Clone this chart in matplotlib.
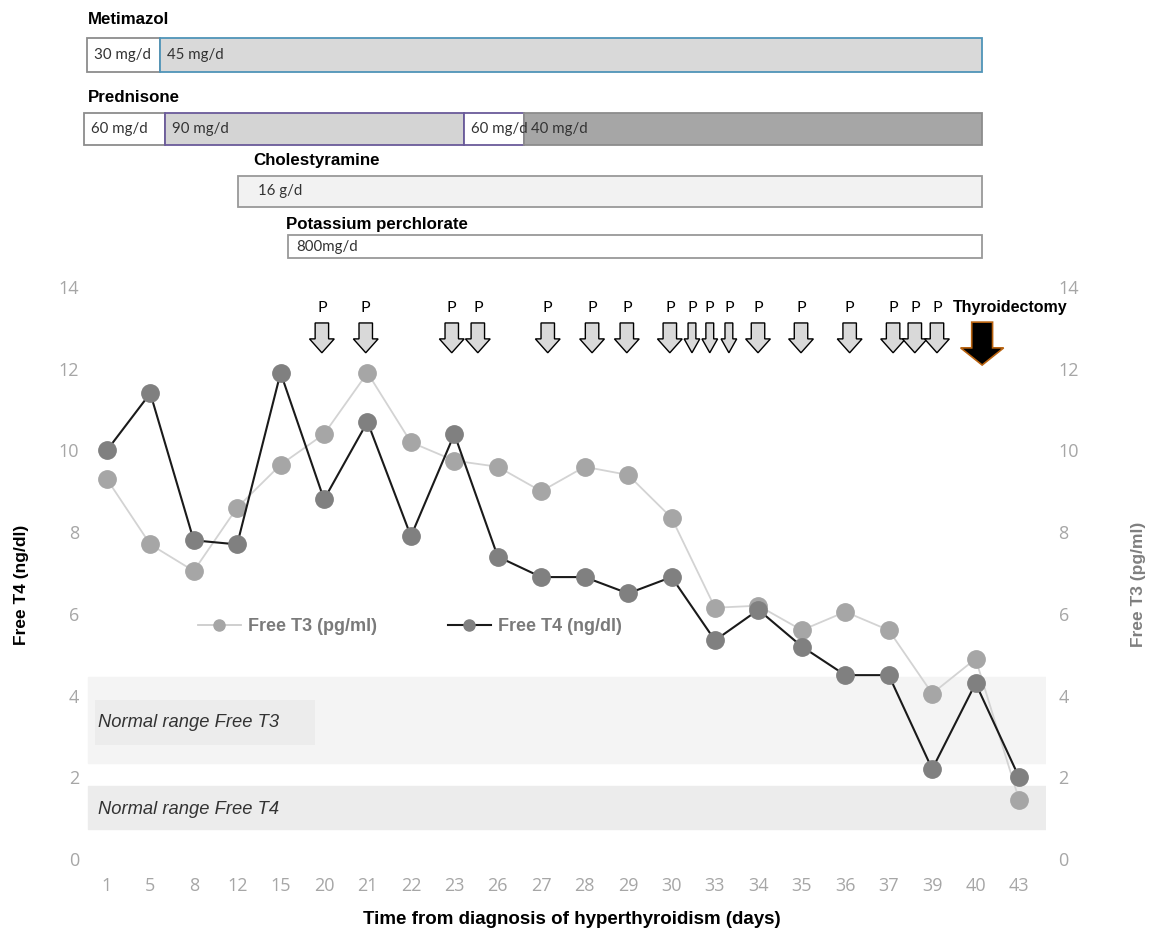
import numpy as np
import matplotlib as mpl, matplotlib.pyplot as plt
from matplotlib.patches import FancyArrow
from matplotlib.lines import Line2D

INK = "#1a1a1a"; TICK = "#a6a6a6"
mpl.rcParams.update({"font.family": "Liberation Sans"})

# ---- data ----
days = ["1", "5", "8", "12", "15", "20", "21", "22", "23", "26", "27", "28",
        "29", "30", "33", "34", "35", "36", "37", "39", "40", "43"]
ft3 = [9.3, 7.7, 7.05, 8.6, 9.65, 10.4, 11.9, 10.2, 9.75, 9.6, 9.0, 9.6,
       9.4, 8.35, 6.15, 6.2, 5.6, 6.05, 5.6, 4.05, 4.9, 1.45]
ft4 = [10.0, 11.4, 7.8, 7.7, 11.9, 8.8, 10.7, 7.9, 10.4, 7.4, 6.9, 6.9,
       6.5, 6.9, 5.35, 6.1, 5.2, 4.5, 4.5, 2.2, 4.3, 2.0]

# plasmapheresis sessions (position on category axis) and surgery
p_pos = [4.95, 5.96, 7.94, 8.54, 10.15, 11.17, 11.97, 12.96, 13.47, 13.88,
         14.32, 14.99, 15.98, 17.1, 18.1, 18.6, 19.11]
p_narrow = [13.47, 13.88, 14.32]
thyroidectomy = 20.15

# medication segments: (start, end, label, fill, edge) on the category axis
drugs = ["Metimazol", "Prednisone", "Cholestyramine", "Potassium perchlorate"]
drug_label_x = [-0.44, -0.44, 3.38, 4.12]
segments = [
    [(-0.46, 1.22, "30 mg/d", "white", "#8c8c8c"),
     (1.22, 20.15, "45 mg/d", "#d9d9d9", "#4f94b8")],
    [(-0.53, 1.34, "60 mg/d", "white", "#8c8c8c"),
     (1.34, 8.22, "90 mg/d", "#d4d4d4", "#6a5a9a"),
     (8.22, 9.6, "60 mg/d", "white", "#6a5a9a"),
     (9.6, 20.15, "40 mg/d", "#a6a6a6", "#8c8c8c")],
    [(3.02, 20.15, "16 g/d", "#f2f2f2", "#999999")],
    [(4.17, 20.15, "800mg/d", "white", "#999999")],
]
seg_pad = [0.17, 0.17, 0.45, 0.2]
# layout rows for the top panel (pixel-like units, inverted)
row_label_y = [20, 98, 160, 224]
row_bar_y = [55, 129, 191.5, 246.5]
row_bar_h = [34, 32, 31, 23]

fig = plt.figure(figsize=(11.56, 9.43), dpi=100)
W, H = 1156, 943
XL = (-0.48, 21.62)

# ---- main chart ----
ax = fig.add_axes([86 / W, (H - 859) / H, 960 / W, 572 / H])
x = np.arange(len(days))
ax.set_xlim(*XL); ax.set_ylim(0, 14)

ax.axhspan(2.35, 4.45, xmin=0.002, xmax=1.0, color="#f4f4f4", zorder=0)
ax.axhspan(0.73, 1.79, xmin=0.002, xmax=1.0, color="#ececec", zorder=0)
ax.fill_between([-0.28, 4.79], 2.79, 3.89, color="#ececec", zorder=0.5, lw=0)
ax.text(-0.21, 3.35, "Normal range Free T3", style="italic", fontsize=13.2,
        color="#333333", va="center")
ax.text(-0.21, 1.22, "Normal range Free T4", style="italic", fontsize=13.2,
        color="#333333", va="center")

l3, = ax.plot(x, ft3, color="#d3d3d3", lw=1.3, marker="o", ms=12.5,
              mfc="#a6a6a6", mec="#a6a6a6", zorder=3)
l4, = ax.plot(x, ft4, color=INK, lw=1.5, marker="o", ms=12.5,
              mfc="#808080", mec="#808080", zorder=4)

h3 = Line2D([], [], color="#cccccc", lw=1.3, marker="o", ms=8, mfc="#a6a6a6", mec="#a6a6a6")
h4 = Line2D([], [], color=INK, lw=1.5, marker="o", ms=8, mfc="#808080", mec="#808080")
leg = ax.legend([h3, h4], ["Free T3 (pg/ml)", "Free T4 (ng/dl)"], ncol=2, frameon=False,
                loc="center", bbox_to_anchor=((410 - 86) / 960, 0.406), handlelength=2.4,
                columnspacing=3.9, handletextpad=0.4,
                prop={"weight": "bold", "size": 13})
for t in leg.get_texts():
    t.set_color("#7a7a7a")

# arrows
for px in p_pos:
    nar = px in p_narrow
    ax.add_patch(FancyArrow(px, 13.12, 0, -0.73, width=0.18 if nar else 0.31,
                            head_width=0.36 if nar else 0.57, head_length=0.34,
                            length_includes_head=True, fc="#d9d9d9", ec="black", lw=1.0, zorder=5))
    ax.text(px, 13.48, "P", ha="center", va="center", fontsize=11.5,
            family="Lato", color="black")
ax.add_patch(FancyArrow(thyroidectomy, 13.14, 0, -1.05, width=0.48, head_width=0.99,
                        head_length=0.42, length_includes_head=True, fc="black",
                        ec="#b8620f", lw=1.2, zorder=5))
ax.text(20.79, 13.5, "Thyroidectomy", ha="center", va="center", fontsize=11.5,
        weight="bold", color="black")

ax.set_xticks(x)
ax.set_xticklabels(days, family="Open Sans", fontsize=13, color=TICK)
ax.set_yticks(range(0, 15, 2))
ax.set_yticklabels([str(v) for v in range(0, 15, 2)], family="Open Sans",
                   fontsize=13, color=TICK)
ax.tick_params(axis="x", length=0, pad=13)
ax.tick_params(axis="y", length=0, pad=5)
for s in ax.spines.values():
    s.set_visible(False)
ax.set_ylabel("Free T4 (ng/dl)", fontsize=12.5, weight="bold", color="black")
ax.yaxis.set_label_coords(-57 / 960, 0.48)
ax.set_xlabel("Time from diagnosis of hyperthyroidism (days)", fontsize=13.5,
              weight="bold", color="black")
ax.xaxis.set_label_coords((572 - 86) / 960, -52 / 572)

ax2 = ax.twinx()
ax2.set_ylim(0, 14)
ax2.set_yticks(range(0, 15, 2))
ax2.set_yticklabels([str(v) for v in range(0, 15, 2)], family="Open Sans",
                    fontsize=13, color=TICK)
ax2.tick_params(axis="y", length=0, pad=9)
for s in ax2.spines.values():
    s.set_visible(False)
ax2.set_ylabel("Free T3 (pg/ml)", fontsize=12.5, weight="bold", color="#7f7f7f")
ax2.yaxis.set_label_coords(1 + 85 / 960, 0.48)

# ---- medication timeline ----
at = fig.add_axes([86 / W, (H - 265) / H, 960 / W, 265 / H])
at.set_xlim(*XL); at.set_ylim(265, 0)
at.axis("off")
for i, name in enumerate(drugs):
    at.text(drug_label_x[i], row_label_y[i], name, fontsize=12.2, weight="bold",
            va="center", ha="left", color="black")
    for (a, b, lab, fc, ec) in segments[i]:
        at.barh(row_bar_y[i], b - a, left=a, height=row_bar_h[i], color=fc,
                edgecolor=ec, lw=1.3, clip_on=False)
        at.text(a + seg_pad[i], row_bar_y[i], lab, fontsize=10.8, family="Lato",
                va="center", ha="left", color="#333333")

fig.savefig("out.png", dpi=100)
